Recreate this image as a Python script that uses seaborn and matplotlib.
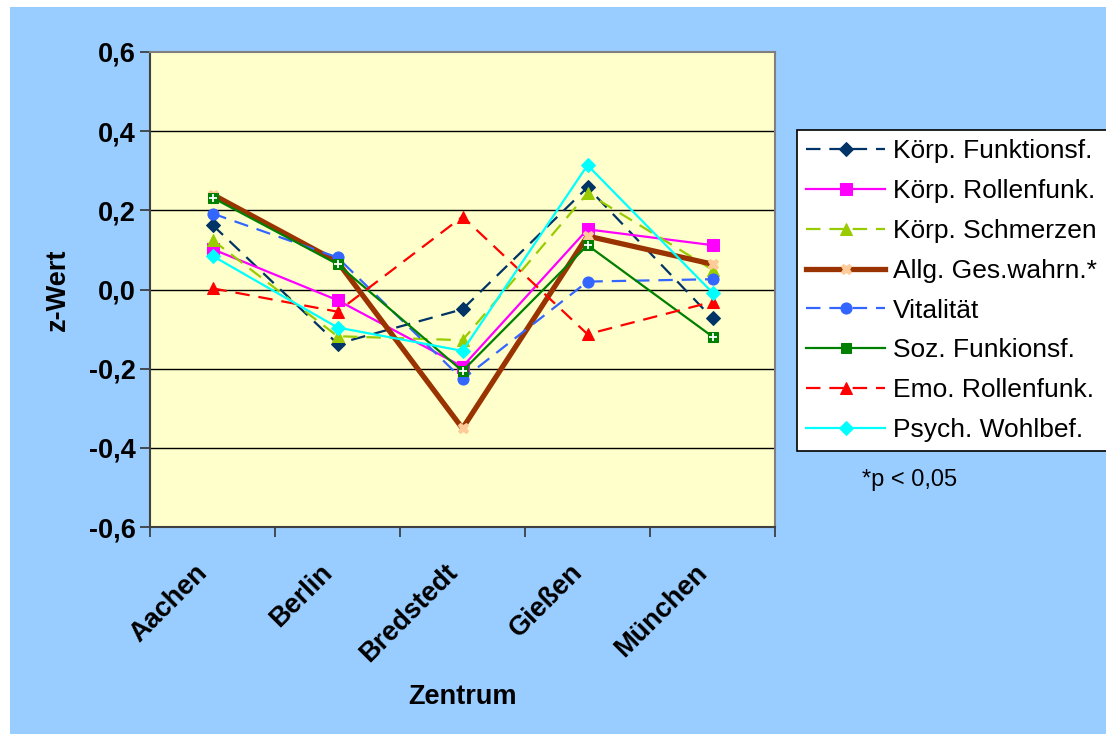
import matplotlib
matplotlib.use('Agg')
import matplotlib.pyplot as plt
import matplotlib.transforms as mtransforms
import seaborn as sns
from matplotlib.patches import Rectangle
from matplotlib.ticker import FixedLocator, NullFormatter

plt.rcParams['font.family'] = ['Liberation Sans', 'DejaVu Sans']

# Data (z-values)
zentren = ['Aachen', 'Berlin', 'Bredstedt', 'Gießen', 'München']
koerp_funktion = [0.163, -0.137, -0.050, 0.258, -0.073]
koerp_rollen = [0.102, -0.027, -0.195, 0.152, 0.112]
koerp_schmerz = [0.125, -0.118, -0.128, 0.243, 0.050]
allg_ges = [0.240, 0.070, -0.351, 0.135, 0.064]
vitalitaet = [0.192, 0.081, -0.227, 0.020, 0.026]
soz_funk = [0.232, 0.064, -0.206, 0.112, -0.119]
emo_rollen = [0.003, -0.056, 0.184, -0.113, -0.031]
psych_wohl = [0.085, -0.096, -0.155, 0.314, -0.008]
y_ticks = [-0.6, -0.4, -0.2, 0.0, 0.2, 0.4, 0.6]

dash = (0, (6.5, 4))
series = [
    ('Körp. Funktionsf.', koerp_funktion, '#003366', dash, 1.6, 'D', 7, '#003366'),
    ('Körp. Rollenfunk.', koerp_rollen, '#FF00FF', '-', 1.6, 's', 8.5, '#FF00FF'),
    ('Körp. Schmerzen', koerp_schmerz, '#99CC00', dash, 1.6, '^', 9, '#99CC00'),
    ('Allg. Ges.wahrn.*', allg_ges, '#993300', '-', 3.8, 'X', 7.5, '#FFCC99'),
    ('Vitalität', vitalitaet, '#3366FF', dash, 1.6, 'o', 8, '#3366FF'),
    ('Soz. Funkionsf.', soz_funk, '#008000', '-', 1.6, 's', 7, '#008000'),
    ('Emo. Rollenfunk.', emo_rollen, '#FF0000', dash, 1.6, '^', 9, '#FF0000'),
    ('Psych. Wohlbef.', psych_wohl, '#00FFFF', '-', 1.6, 'D', 7, '#00FFFF'),
]

fig = plt.figure(figsize=(11.06, 7.34), dpi=100, facecolor='white')
fig.patches.append(Rectangle((10 / 1106, 0), 1 - 10 / 1106, 1 - 7 / 734,
                             transform=fig.transFigure, facecolor='#99CCFF',
                             edgecolor='none', zorder=-10))
ax = fig.add_axes([150 / 1106, 1 - 527 / 734, 625 / 1106, 475 / 734])
ax.set_facecolor('#FFFFCC')

for name, vals, col, ls, lw, mk, ms, mfc in series:
    sns.lineplot(x=zentren, y=vals, ax=ax, color=col, linestyle=ls, linewidth=lw,
                 marker=mk, markersize=ms, markerfacecolor=mfc, markeredgecolor=mfc,
                 sort=False, label=name)

# white plus inside the green square markers
sns.lineplot(x=zentren, y=soz_funk, ax=ax, linestyle='none', marker='+', markersize=6,
             markeredgecolor='white', markeredgewidth=1.3, sort=False)

ax.set_ylim(-0.6, 0.6)
ax.set_yticks(y_ticks)
ax.set_yticklabels([f'{v:.1f}'.replace('.', ',').replace('-0,0', '0,0') for v in y_ticks])
for v in y_ticks[1:-1]:
    ax.axhline(v, color='black', lw=1, zorder=0)

ax.set_xlim(-0.5, 4.5)
ax.xaxis.set_major_locator(FixedLocator([-0.5, 0.5, 1.5, 2.5, 3.5, 4.5]))
ax.xaxis.set_major_formatter(NullFormatter())
ax.xaxis.set_minor_locator(FixedLocator(range(len(zentren))))
ax.set_xticklabels(zentren, minor=True, rotation=45, ha='right', va='center',
                   rotation_mode='anchor', fontsize=19.5, fontweight='bold')
ax.tick_params(axis='x', which='minor', length=0, pad=30)
ax.tick_params(axis='both', which='major', length=7, width=1.2, color='#333333',
               labelsize=19.5, direction='out')
shift = mtransforms.ScaledTranslation(-9 / 100, 0, fig.dpi_scale_trans)
for lab in ax.get_xticklabels(minor=True):
    lab.set_transform(lab.get_transform() + shift)
for lab in ax.get_yticklabels():
    lab.set_fontweight('bold')
ax.grid(False)

for sp in ax.spines.values():
    sp.set_color('#808080')
    sp.set_linewidth(1.5)
ax.spines['left'].set_color('#404040')
ax.spines['bottom'].set_color('#404040')

ax.set_xlabel('Zentrum', fontsize=19.5, fontweight='bold')
ax.xaxis.set_label_coords(0.5, -0.33)
ax.set_ylabel('z-Wert', fontsize=19.5, fontweight='bold')
ax.yaxis.set_label_coords(-0.127, 0.5)

handles, labels = ax.get_legend_handles_labels()
leg = ax.legend(handles[:8], labels[:8], loc='upper left',
                bbox_to_anchor=(797 / 1106, 1 - 130 / 734), bbox_transform=fig.transFigure,
                fontsize=19, frameon=True, fancybox=False, framealpha=1,
                edgecolor='black', facecolor='white', handlelength=3.0,
                handletextpad=0.3, labelspacing=0.6, borderpad=0.35, borderaxespad=0)
leg.get_frame().set_linewidth(1.2)

fig.text(862 / 1106, 1 - 480 / 734, '*p < 0,05', fontsize=17, va='center', ha='left')

fig.savefig('out.png', dpi=100, facecolor=fig.get_facecolor())
